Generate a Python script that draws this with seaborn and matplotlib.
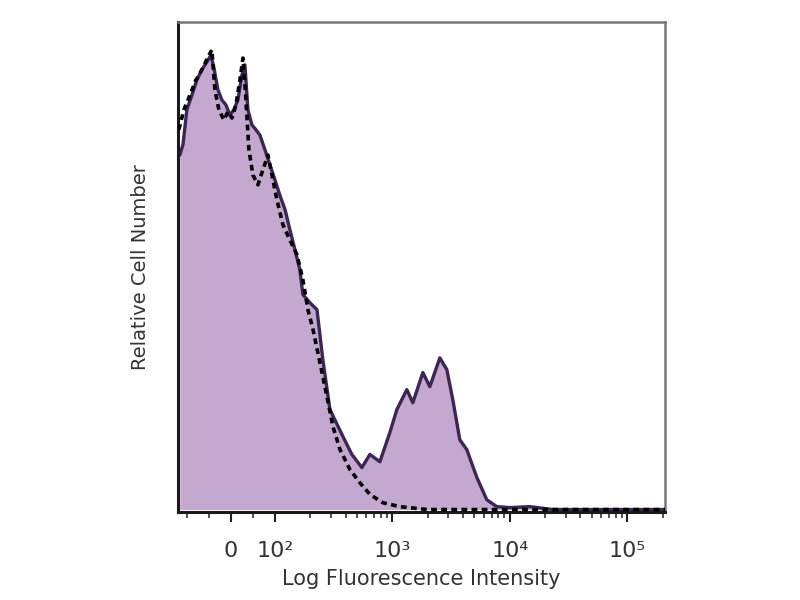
import numpy as np
import pandas as pd
import seaborn as sns
import matplotlib
matplotlib.use("Agg")
import matplotlib.pyplot as plt
from matplotlib.ticker import FixedLocator, NullLocator

# stained sample (filled histogram), fluorescence vs relative count
stain_x = [-115, -108, -100, -88.6, -77.3, -65.9, -54.5, -45.5, -38.6, -29.5, -20.5,
           -11.4, -2.3, 6.8, 15.9, 25.0, 31.8, 38.6, 47.7, 56.8, 65.9, 77.3, 88.6,
           100, 110, 122, 134, 148, 163, 173, 199, 228, 256, 294, 379, 452, 550,
           644, 783, 952, 1092, 1328, 1494, 1818, 2085, 2537, 2910, 3273, 3754,
           4305, 5238, 6373, 7752, 10000, 14800, 23230, 58300, 127700, 210000]
stain_y = [72.7, 74.8, 82.0, 85.0, 88.1, 90.2, 91.8, 93.2, 90.6, 86.1, 84.0,
           83.0, 80.9, 82.0, 84.0, 89.1, 91.2, 82.0, 78.9, 77.9, 76.8, 73.8, 70.7,
           67.6, 64.5, 61.5, 57.4, 53.3, 49.2, 44.1, 42.4, 41.0, 30.7, 20.5, 15.0,
           11.3, 8.6, 11.3, 9.8, 15.8, 20.5, 24.6, 21.9, 28.1, 25.2, 31.1, 28.7,
           22.5, 14.3, 12.3, 6.6, 2.0, 0.6, 0.4, 0.6, 0.0, 0.0, 0.0, 0.0]

# isotype control (dashed line)
iso_x = [-117, -106, -93.2, -79.5, -65.9, -52.3, -43.2, -36.4, -27.3, -15.9, -6.8,
         2.3, 11.4, 20.5, 27.3, 34.1, 40.9, 50, 61.4, 72.7, 84.1, 93.2, 104, 117,
         134, 154, 173, 191, 211, 242, 277, 312, 358, 435, 529, 644, 830, 1158,
         1966, 3087, 8222, 26640, 86300, 210000]
iso_y = [77.9, 82.0, 85.0, 88.1, 90.2, 92.8, 94.3, 86.1, 82.0, 79.9, 81.6,
         80.3, 83.0, 88.1, 92.6, 84.0, 73.8, 68.6, 66.6, 69.7, 72.7, 68.6, 63.5, 58.4,
         55.3, 52.3, 47.1, 41.0, 36.9, 30.1, 23.2, 17.0, 12.3, 8.2, 5.5, 3.1, 1.4, 0.6,
         0.0, 0.0, 0.0, 0.0, 0.0, 0.0]

major_ticks = [0, 100, 1000, 10000, 100000]
major_labels = ["0", "10²", "10³", "10⁴", "10⁵"]

stain = pd.DataFrame({"x": stain_x, "y": stain_y})
iso = pd.DataFrame({"x": iso_x, "y": iso_y})

sns.set_style("white")
fig = plt.figure(figsize=(8, 6), dpi=100)
ax = fig.add_axes([0.2225, 0.1467, 0.6088, 0.8167])
ax.set_xscale("symlog", linthresh=100, linscale=0.3375)

ax.fill_between(stain["x"], 0, stain["y"], color="#c4a8cf", linewidth=0, zorder=1)
sns.lineplot(data=stain, x="x", y="y", ax=ax, color="#3b2656", linewidth=2.4,
             sort=False, zorder=2)
sns.lineplot(data=iso, x="x", y="y", ax=ax, color="black", linewidth=2.6,
             sort=False, zorder=3, dashes=False, linestyle=(0, (1.6, 1.2)))

ax.set_xlim(-119, 210000)
ax.set_ylim(-0.5, 100)

minor = [-100, -50, 50] + [m * 10 ** k for k in (2, 3, 4, 5) for m in range(2, 10)
                           if m * 10 ** k < 210000]
ax.xaxis.set_major_locator(FixedLocator(major_ticks))
ax.xaxis.set_minor_locator(FixedLocator(minor))
ax.set_xticklabels(major_labels, fontsize=16, color="#333333")
ax.tick_params(axis="x", which="major", direction="out", length=7, width=1.5,
               color="#222222", pad=14, bottom=True)
ax.tick_params(axis="x", which="minor", direction="out", length=4, width=1.2,
               color="#333333", bottom=True)
ax.yaxis.set_major_locator(NullLocator())

for side in ("left", "bottom"):
    ax.spines[side].set_color("#1a1a1a")
    ax.spines[side].set_linewidth(2.2)
for side in ("top", "right"):
    ax.spines[side].set_color("#777777")
    ax.spines[side].set_linewidth(1.8)

ax.set_xlabel("Log Fluorescence Intensity", fontsize=15, color="#333333", labelpad=6)
ax.set_ylabel("Relative Cell Number", fontsize=14, color="#333333", labelpad=20)

fig.savefig("out.png", dpi=100)
